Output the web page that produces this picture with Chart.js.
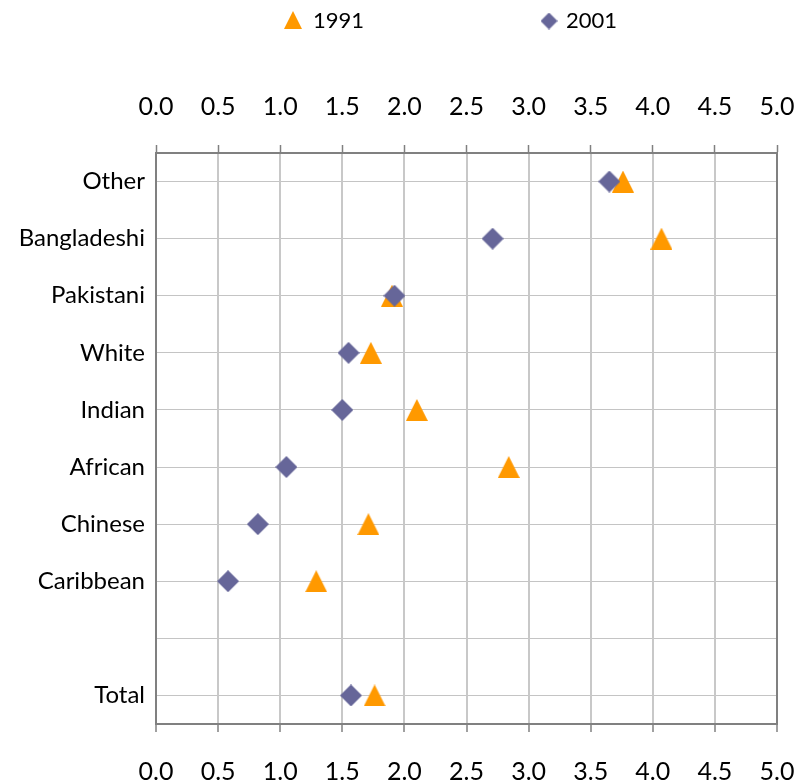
<!DOCTYPE html>
<html>
<head>
<meta charset="utf-8">
<script src="https://cdn.jsdelivr.net/npm/chart.js@4.4.1/dist/chart.umd.min.js"></script>
<style>
  html, body { margin: 0; padding: 0; background: #ffffff; }
  #wrap { width: 807px; height: 783px; position: relative; }
</style>
</head>
<body>
<div id="wrap"><canvas id="c" width="807" height="783"></canvas></div>
<script>
// ---- data ----
const categories = ['Other', 'Bangladeshi', 'Pakistani', 'White', 'Indian', 'African', 'Chinese', 'Caribbean', '', 'Total'];
const values1991 = [3.76, 4.07, 1.90, 1.73, 2.10, 2.84, 1.71, 1.29, null, 1.76];
const values2001 = [3.65, 2.71, 1.92, 1.55, 1.50, 1.05, 0.82, 0.58, null, 1.57];
const seriesNames = ['1991', '2001'];
const xTickMin = 0, xTickMax = 5, xTickStep = 0.5;

// ---- marker images ----
function triangleImg(size, color) {
  const c = document.createElement('canvas');
  c.width = size; c.height = size;
  const g = c.getContext('2d');
  g.fillStyle = color;
  g.beginPath();
  g.moveTo(size / 2, 0);
  g.lineTo(size, size);
  g.lineTo(0, size);
  g.closePath();
  g.fill();
  return c;
}
function diamondImg(size, color) {
  const c = document.createElement('canvas');
  c.width = size; c.height = size;
  const g = c.getContext('2d');
  g.fillStyle = color;
  g.beginPath();
  g.moveTo(size / 2, 0);
  g.lineTo(size, size / 2);
  g.lineTo(size / 2, size);
  g.lineTo(0, size / 2);
  g.closePath();
  g.fill();
  return c;
}
const ORANGE = '#FF9900';
const PURPLE = '#666699';
const triBig = triangleImg(22, ORANGE);
const diaBig = diamondImg(22, PURPLE);
const triSmall = triangleImg(18, ORANGE);
const diaSmall = diamondImg(17, PURPLE);

const FONT = 'Lato, "Open Sans", sans-serif';

// frame + legend plugin
const framePlugin = {
  id: 'frame',
  afterDraw(chart) {
    const { ctx, chartArea } = chart;
    ctx.save();
    ctx.strokeStyle = '#808080';
    ctx.lineWidth = 2;
    ctx.strokeRect(chartArea.left, chartArea.top, chartArea.right - chartArea.left, chartArea.bottom - chartArea.top);
    ctx.font = '22px ' + FONT;
    ctx.fillStyle = '#000000';
    ctx.textBaseline = 'middle';
    ctx.textAlign = 'left';
    const items = [
      { img: triSmall, cx: 293, cy: 20, tx: 313, label: chart.data.datasets[0].label },
      { img: diaSmall, cx: 549, cy: 21, tx: 566, label: chart.data.datasets[1].label }
    ];
    for (const it of items) {
      ctx.drawImage(it.img, it.cx - it.img.width / 2, it.cy - it.img.height / 2);
      ctx.fillText(it.label, it.tx, 21);
    }
    ctx.restore();
  }
};

function noSidePad(scale) {
  scale.paddingLeft = 0;
  scale.paddingRight = 0;
}

new Chart(document.getElementById('c'), {
  type: 'line',
  data: {
    labels: categories,
    datasets: [
      {
        label: seriesNames[0],
        data: values1991,
        showLine: false,
        pointStyle: triBig,
        backgroundColor: ORANGE,
        borderColor: ORANGE,
        order: 2
      },
      {
        label: seriesNames[1],
        data: values2001,
        showLine: false,
        pointStyle: diaBig,
        backgroundColor: PURPLE,
        borderColor: PURPLE,
        order: 1
      }
    ]
  },
  options: {
    indexAxis: 'y',
    responsive: false,
    animation: false,
    events: [],
    layout: { padding: { top: 0, left: 0, right: 30, bottom: 0 } },
    plugins: {
      legend: { display: false },
      tooltip: { enabled: false }
    },
    scales: {
      y: {
        type: 'category',
        offset: true,
        grid: { display: true, color: '#c4c4c4', lineWidth: 1, drawTicks: false, offset: false },
        border: { display: false },
        ticks: { color: '#000000', font: { family: FONT, size: 24 }, padding: 11, autoSkip: false },
        afterFit(scale) { scale.width = 156; }
      },
      x: {
        type: 'linear',
        position: 'bottom',
        min: xTickMin, max: xTickMax,
        grid: { color: '#c8c8c8', lineWidth: 2, tickColor: '#808080', tickLength: 8, tickWidth: 1.5 },
        border: { display: true, color: '#808080', width: 2 },
        ticks: {
          stepSize: xTickStep, color: '#000000', padding: 25,
          font: { family: FONT, size: 25 },
          callback: v => v.toFixed(1),
          maxRotation: 0
        },
        afterFit(scale) { scale.height = 59; noSidePad(scale); }
      },
      x2: {
        type: 'linear',
        position: 'top',
        min: xTickMin, max: xTickMax,
        grid: { drawOnChartArea: false, tickColor: '#808080', tickLength: 8, tickWidth: 1.5 },
        border: { display: true, color: '#808080', width: 2 },
        ticks: {
          stepSize: xTickStep, color: '#000000', padding: 23,
          font: { family: FONT, size: 25 },
          callback: v => v.toFixed(1),
          maxRotation: 0
        },
        afterFit(scale) { scale.height = 153; noSidePad(scale); }
      }
    }
  },
  plugins: [framePlugin]
});
</script>
</body>
</html>
